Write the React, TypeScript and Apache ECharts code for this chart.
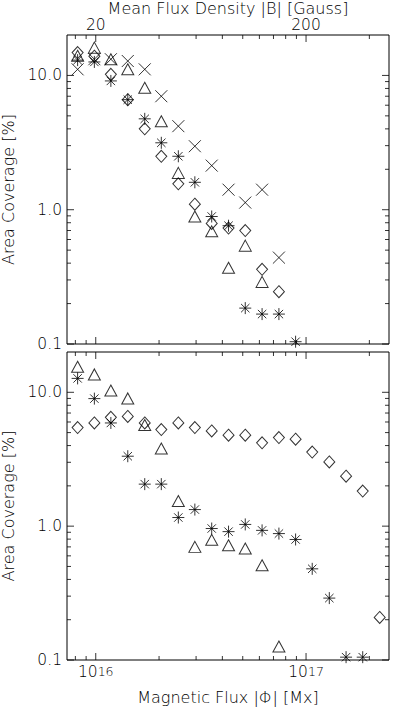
import React, { useEffect, useRef } from "react";
import * as echarts from "echarts";

// Flux bins (Mx), log-spaced
const fluxBins = [
  8.2e15, 9.85e15, 1.18e16, 1.42e16, 1.71e16, 2.05e16, 2.47e16, 2.96e16, 3.56e16, 4.28e16,
  5.14e16, 6.18e16, 7.43e16, 8.92e16, 1.07e17, 1.29e17, 1.55e17, 1.86e17, 2.24e17,
];

// Top panel series (Area Coverage %)
const topDiamond = [14.8, 13.9, 10.2, 6.6, 4.0, 2.5, 1.56, 1.1, 0.79, 0.73, 0.7, 0.36, 0.245];
const topTriangle = [14.0, 16.1, 13.2, 11.1, 8.1, 4.56, 1.88, 0.89, 0.69, 0.37, 0.54, 0.29];
const topAsterisk = [13.0, 12.6, 9.1, 6.6, 4.75, 3.15, 2.5, 1.6, 0.89, 0.76, 0.185, 0.167, 0.167, 0.104];
const topCross = [11.1, 13.2, 13.2, 12.8, 11.1, 7.0, 4.19, 2.97, 2.13, 1.41, 1.13, 1.41, 0.44];

// Bottom panel series
const botDiamond = [5.45, 5.9, 6.5, 6.6, 5.9, 5.27, 5.9, 5.45, 5.14, 4.78, 4.78, 4.19, 4.59, 4.46, 3.58, 3.02, 2.36, 1.83, 0.208];
const botTriangle = [15.5, 13.6, 10.3, 9.0, 5.7, 3.8, 1.54, 0.7, 0.79, 0.72, 0.68, 0.51, 0.126];
const botAsterisk = [12.7, 8.97, 5.9, 3.33, 2.06, 2.06, 1.16, 1.33, 0.96, 0.91, 1.03, 0.93, 0.88, 0.795, 0.48, 0.29, 0.105, 0.105];

// Axis ranges and ticks
const xRange = [7.3e15, 2.48e17];
const yRange = [0.1, 20];
const xMajorTicks = [1e16, 1e17];
const xMinorTicks = [8e15, 9e15, 2e16, 3e16, 4e16, 5e16, 6e16, 7e16, 8e16, 9e16, 2e17];
const yMajorTicks = [0.1, 1, 10];
const yMinorTicks = [0.2, 0.3, 0.4, 0.5, 0.6, 0.7, 0.8, 0.9, 2, 3, 4, 5, 6, 7, 8, 9];
const gaussPerMx = 2e-15;

const FONT = "DejaVu Sans";
const WEIGHT = 200;
const FS = 15.5;
const TFS = 16;
const INK = "#000";

const ASTERISK = "path://M5 0L5 10M0 5L10 5M1.5 1.5L8.5 8.5M8.5 1.5L1.5 8.5";
const CROSS = "path://M0 0L10 10M10 0L0 10";

function toPairs(vals: number[]) {
  return vals.map((v, i) => [fluxBins[i], v]);
}

function scatter(name: string, vals: number[], symbol: string, size: any, xi: number, yi: number) {
  return {
    name,
    type: "scatter",
    xAxisIndex: xi,
    yAxisIndex: yi,
    symbol,
    symbolSize: size,
    data: toPairs(vals),
    itemStyle: { color: "rgba(0,0,0,0)", borderColor: INK, borderWidth: 1 },
    z: 3,
  };
}

// tick marks drawn as thin rect symbols placed by the axes' own scales
function ticks(values: number[], side: "b" | "t" | "l" | "r", len: number, xi: number, yi: number) {
  const horizontal = side === "l" || side === "r";
  const data = values.map((v) => {
    if (side === "b") return [v, yRange[0]];
    if (side === "t") return [v, yRange[1]];
    if (side === "l") return [xRange[0], v];
    return [xRange[1], v];
  });
  const offset =
    side === "b" ? [0, -len / 2] : side === "t" ? [0, len / 2] : side === "l" ? [len / 2, 0] : [-len / 2, 0];
  return {
    type: "scatter",
    xAxisIndex: xi,
    yAxisIndex: yi,
    symbol: "rect",
    symbolSize: horizontal ? [len, 1] : [1, len],
    symbolOffset: offset,
    data,
    itemStyle: { color: INK },
    z: 4,
  };
}

function allTicks(xi: number, yi: number) {
  return [
    ticks(xMajorTicks, "b", 7, xi, yi),
    ticks(xMajorTicks, "t", 7, xi, yi),
    ticks(xMinorTicks, "b", 4, xi, yi),
    ticks(xMinorTicks, "t", 4, xi, yi),
    ticks(yMajorTicks, "l", 7, xi, yi),
    ticks(yMajorTicks, "r", 7, xi, yi),
    ticks(yMinorTicks, "l", 4, xi, yi),
    ticks(yMinorTicks, "r", 4, xi, yi),
  ];
}

const baseText = { fontFamily: FONT, fontWeight: WEIGHT, fontSize: FS, color: INK };
const titleText = { fontFamily: FONT, fontWeight: WEIGHT, fontSize: TFS, color: INK, lineHeight: 16 };

function yAxisDef(gridIndex: number) {
  return {
    gridIndex,
    type: "log",
    min: yRange[0],
    max: yRange[1],
    name: "Area Coverage [%]",
    nameLocation: "middle",
    nameGap: 43,
    nameTextStyle: { ...titleText },
    axisLine: { show: false },
    axisTick: { show: false },
    splitLine: { show: false },
    axisLabel: {
      ...baseText,
      margin: 5,
      showMinLabel: true,
      showMaxLabel: false,
      formatter: (v: number) => {
        const e = Math.round(Math.log10(v));
        if (Math.abs(Math.log10(v) - e) > 1e-6) return "";
        return Math.pow(10, e).toFixed(1);
      },
    },
  };
}

export default function App() {
  const ref = useRef<HTMLDivElement>(null);
  useEffect(() => {
    if (!ref.current) return;
    const chart = echarts.init(ref.current, undefined, { renderer: "svg" });
    const gridBase = { left: 67, width: 322, show: true, borderColor: INK, borderWidth: 1, outerBoundsMode: "none" };
    const option: any = {
      animation: false,
      backgroundColor: "#fff",
      grid: [
        { ...gridBase, top: 35, height: 309 },
        { ...gridBase, top: 352, height: 308 },
      ],
      xAxis: [
        {
          gridIndex: 0,
          type: "log",
          min: xRange[0],
          max: xRange[1],
          position: "bottom",
          axisLine: { show: false },
          axisTick: { show: false },
          splitLine: { show: false },
          axisLabel: { show: false },
        },
        {
          gridIndex: 0,
          type: "log",
          min: xRange[0],
          max: xRange[1],
          position: "top",
          name: "Mean Flux Density |B| [Gauss]",
          nameLocation: "middle",
          nameGap: 17,
          nameTextStyle: { ...titleText, lineHeight: 14 },
          axisLine: { show: false },
          axisTick: { show: false },
          splitLine: { show: false },
          axisLabel: {
            ...baseText,
            lineHeight: 12,
            margin: 4,
            showMinLabel: false,
            showMaxLabel: false,
            formatter: (v: number) => String(Math.round(v * gaussPerMx)),
          },
        },
        {
          gridIndex: 1,
          type: "log",
          min: xRange[0],
          max: xRange[1],
          position: "bottom",
          name: "Magnetic Flux |\u03A6| [Mx]",
          nameLocation: "middle",
          nameGap: 29,
          nameTextStyle: { ...titleText },
          axisLine: { show: false },
          axisTick: { show: false },
          splitLine: { show: false },
          axisLabel: {
            margin: 5,
            showMinLabel: false,
            showMaxLabel: false,
            formatter: (v: number) => `{b|10}{s|${Math.round(Math.log10(v))}}`,
            rich: {
              b: { fontFamily: FONT, fontWeight: WEIGHT, fontSize: FS, color: INK, lineHeight: 15, verticalAlign: "bottom" },
              s: { fontFamily: FONT, fontWeight: WEIGHT, fontSize: 12.5, color: INK, lineHeight: 11, verticalAlign: "top", padding: [0, 0, 11, 0] },
            },
          },
        },
      ],
      yAxis: [yAxisDef(0), yAxisDef(1)],
      series: [
        scatter("top-diamond", topDiamond, "diamond", [11, 12], 0, 0),
        scatter("top-triangle", topTriangle, "triangle", [12, 11], 0, 0),
        scatter("top-asterisk", topAsterisk, ASTERISK, 12, 0, 0),
        scatter("top-cross", topCross, CROSS, 12, 0, 0),
        scatter("bot-diamond", botDiamond, "diamond", [11, 12], 2, 1),
        scatter("bot-triangle", botTriangle, "triangle", [12, 11], 2, 1),
        scatter("bot-asterisk", botAsterisk, ASTERISK, 12, 2, 1),
        ...allTicks(0, 0),
        ...allTicks(2, 1),
      ],
    };
    chart.setOption(option);
    return () => chart.dispose();
  }, []);
  return (
    <div
      ref={ref}
      style={{ position: "fixed", left: 0, top: 0, width: 393, height: 707, background: "#fff" }}
    />
  );
}
